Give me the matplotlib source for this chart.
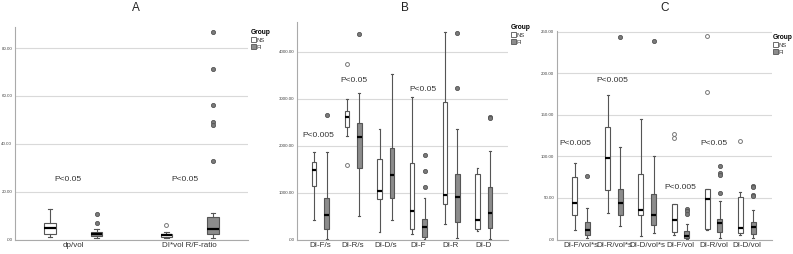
import matplotlib
matplotlib.use("Agg")
import matplotlib.pyplot as plt
from matplotlib.patches import Patch

# ---------------- data ----------------
groups = ["NS", "FI"]

a_categories = ["dp/vol", "DI*vol R/F-ratio"]
a_ns_whislo = [1.0, 0.8]
a_ns_q1 = [2.4, 1.25]
a_ns_med = [5.0, 1.8]
a_ns_q3 = [7.1, 2.4]
a_ns_whishi = [12.6, 3.2]
a_ns_fliers = [[], [6.0]]
a_fi_whislo = [0.7, 0.8]
a_fi_q1 = [1.5, 2.5]
a_fi_med = [2.5, 4.3]
a_fi_q3 = [3.2, 9.2]
a_fi_whishi = [4.5, 11.0]
a_fi_fliers = [[10.6, 7.0], [86.7, 71.4, 56.2, 49.0, 47.8, 32.8]]
a_pvalues = ["P<0.05", "P<0.05"]
a_p_x = [-0.045, 0.96]
a_p_y = [25, 25]
a_yticks = [0, 20, 40, 60, 80]
a_yticklabels = [".00", "20.00", "40.00", "60.00", "80.00"]

b_categories = ["DI-F/s", "DI-R/s", "DI-D/s", "DI-F", "DI-R", "DI-D"]
b_ns_whislo = [425, 2208, 163, 120, 340, 177]
b_ns_q1 = [1132, 2406, 870, 226, 757, 226]
b_ns_med = [1486, 2604, 1033, 602, 955, 418]
b_ns_q3 = [1642, 2746, 1713, 1628, 2930, 1394]
b_ns_whishi = [1875, 2987, 2350, 3029, 4423, 1522]
b_ns_fliers = [[], [3751, 1599], [], [], [], []]
b_fi_whislo = [21, 495, 425, 14, 28, 21]
b_fi_q1 = [226, 1522, 892, 50, 375, 248]
b_fi_med = [524, 2194, 1380, 262, 906, 559]
b_fi_q3 = [885, 2477, 1946, 439, 1394, 1111]
b_fi_whishi = [1875, 3114, 3524, 878, 2357, 1897]
b_fi_fliers = [[2647], [4374], [], [1805, 1451, 1125], [4409, 3220], [2604, 2590]]
b_pvalues = ["P<0.005", "P<0.05", "P<0.05"]
b_p_x = [-0.05, 1.02, 3.13]
b_p_y = [2215, 3397, 3199]
b_yticks = [0, 1000, 2000, 3000, 4000]
b_yticklabels = [".00", "1000.00", "2000.00", "3000.00", "4000.00"]

c_categories = ["DI-F/vol*s", "DI-R/vol*s", "DI-D/vol*s", "DI-F/vol", "DI-R/vol", "DI-D/vol"]
c_ns_whislo = [12, 32, 4, 5, 12, 5]
c_ns_q1 = [29, 60, 29, 9, 13, 8]
c_ns_med = [44, 98, 35, 24, 49, 14]
c_ns_q3 = [75, 136, 79, 43, 61, 51]
c_ns_whishi = [92, 174, 145, 43, 61, 57]
c_ns_fliers = [[], [], [], [127, 122], [245, 178], [119]]
c_fi_whislo = [2, 16, 8, 1, 2, 2]
c_fi_q1 = [5, 29, 18, 2.4, 9, 7]
c_fi_med = [11.6, 44, 30, 4.4, 20, 15]
c_fi_q3 = [21, 61, 55, 10, 25, 21]
c_fi_whishi = [38, 111, 100, 19, 46, 36]
c_fi_fliers = [[76], [244], [239], [37, 34, 31], [89, 80, 78, 56], [65, 63, 54, 52]]
c_pvalues = ["P<0.005", "P<0.005", "P<0.005", "P<0.05"]
c_p_x = [-0.17, 0.95, 3.0, 4.0]
c_p_y = [115, 191, 62, 115]
c_yticks = [0, 50, 100, 150, 200, 250]
c_yticklabels = [".00", "50.00", "100.00", "150.00", "200.00", "250.00"]

# ---------------- style ----------------
FI_COLOR = "#8c8c8c"
EDGE = "#555555"
GRID = "#d9d9d9"
NARROW = ["Liberation Sans Narrow", "Liberation Sans", "DejaVu Sans"]
PFONT = ["Liberation Sans", "DejaVu Sans"]


def make_stats(whislo, q1, med, q3, whishi, fliers):
    return [dict(whislo=a, q1=b, med=c, q3=d, whishi=e, fliers=f)
            for a, b, c, d, e, f in zip(whislo, q1, med, q3, whishi, fliers)]


def draw_panel(ax, cats, ns, fi, off, width, xlim, ylim, yticks, yticklabels):
    n = len(cats)
    pos_ns = [i - off for i in range(n)]
    pos_fi = [i + off for i in range(n)]
    common = dict(widths=width, patch_artist=True, manage_ticks=False,
                  whiskerprops=dict(color=EDGE, lw=0.8),
                  capprops=dict(color=EDGE, lw=0.8),
                  medianprops=dict(color="black", lw=1.6))
    bp1 = ax.bxp(ns, positions=pos_ns,
                 boxprops=dict(facecolor="white", edgecolor=EDGE, lw=0.8),
                 flierprops=dict(marker="o", markersize=2.8, markerfacecolor="none",
                                 markeredgecolor="#777777", markeredgewidth=0.7),
                 **common)
    bp2 = ax.bxp(fi, positions=pos_fi,
                 boxprops=dict(facecolor=FI_COLOR, edgecolor=EDGE, lw=0.8),
                 flierprops=dict(marker="o", markersize=3.0, markerfacecolor="#7a7a7a",
                                 markeredgecolor="#555555", markeredgewidth=0.6),
                 **common)
    for c in bp1["caps"] + bp2["caps"]:
        x = c.get_xdata()
        m = (x[0] + x[1]) / 2
        c.set_xdata([m - width * 0.2, m + width * 0.2])
    ax.set_xlim(*xlim)
    ax.set_ylim(*ylim)
    ax.set_xticks(range(n))
    ax.set_xticklabels(cats, family=NARROW, fontsize=5.8, color="#333333")
    ax.set_yticks(yticks)
    ax.set_yticklabels(yticklabels, fontsize=3.2, color="#444444", family=NARROW)
    ax.tick_params(length=0, pad=2)
    ax.yaxis.grid(True, color=GRID, lw=0.8)
    ax.set_axisbelow(True)
    for s in ["top", "right"]:
        ax.spines[s].set_visible(False)
    for s in ["left", "bottom"]:
        ax.spines[s].set_color("#aaaaaa")
        ax.spines[s].set_linewidth(0.8)


def legend(fig, x, y):
    handles = [Patch(facecolor="white", edgecolor=EDGE, lw=0.6, label=groups[0]),
               Patch(facecolor=FI_COLOR, edgecolor=EDGE, lw=0.6, label=groups[1])]
    lg = fig.legend(handles=handles, loc="upper left", bbox_to_anchor=(x, y),
                    frameon=False, title="Group", fontsize=4.2,
                    title_fontproperties=dict(size=4.8, weight="bold", family=NARROW),
                    handlelength=0.9, handleheight=0.9, handletextpad=0.1,
                    labelspacing=0.25, borderaxespad=0, borderpad=0, alignment="left")
    for t in lg.get_texts():
        t.set_family(NARROW)
        t.set_color("#333333")


W, H = 793, 254
fig = plt.figure(figsize=(W / 100, H / 100), dpi=100)


def axes_px(l, r, t, b):
    return fig.add_axes([l / W, 1 - b / H, (r - l) / W, (b - t) / H])


axA = axes_px(15, 248, 27, 239.5)
draw_panel(axA, a_categories,
           make_stats(a_ns_whislo, a_ns_q1, a_ns_med, a_ns_q3, a_ns_whishi, a_ns_fliers),
           make_stats(a_fi_whislo, a_fi_q1, a_fi_med, a_fi_q3, a_fi_whishi, a_fi_fliers),
           off=0.2, width=0.1, xlim=(-0.5, 1.5), ylim=(0, 88.8),
           yticks=a_yticks, yticklabels=a_yticklabels)
for x, y, p in zip(a_p_x, a_p_y, a_pvalues):
    axA.text(x, y, p, ha="center", va="center", fontsize=6.0, color="#333333", family=PFONT)

axB = axes_px(297, 508, 22, 239.5)
draw_panel(axB, b_categories,
           make_stats(b_ns_whislo, b_ns_q1, b_ns_med, b_ns_q3, b_ns_whishi, b_ns_fliers),
           make_stats(b_fi_whislo, b_fi_q1, b_fi_med, b_fi_q3, b_fi_whishi, b_fi_fliers),
           off=0.19, width=0.14, xlim=(-0.716, 5.744), ylim=(0, 4638),
           yticks=b_yticks, yticklabels=b_yticklabels)
for x, y, p in zip(b_p_x, b_p_y, b_pvalues):
    axB.text(x, y, p, ha="center", va="center", fontsize=6.0, color="#333333", family=PFONT)

axC = axes_px(557, 772, 31, 239.5)
draw_panel(axC, c_categories,
           make_stats(c_ns_whislo, c_ns_q1, c_ns_med, c_ns_q3, c_ns_whishi, c_ns_fliers),
           make_stats(c_fi_whislo, c_fi_q1, c_fi_med, c_fi_q3, c_fi_whishi, c_fi_fliers),
           off=0.19, width=0.15, xlim=(-0.72, 5.76), ylim=(0, 251),
           yticks=c_yticks, yticklabels=c_yticklabels)
for x, y, p in zip(c_p_x, c_p_y, c_pvalues):
    axC.text(x, y, p, ha="center", va="center", fontsize=6.0, color="#333333", family=PFONT)

# panel titles
for x, t in [(136, "A"), (405, "B"), (665, "C")]:
    fig.text(x / W, 1 - 8 / H, t, ha="center", va="center", fontsize=8.5,
             color="#222222", family=PFONT)

legend(fig, 251 / W, 1 - 29 / H)
legend(fig, 511 / W, 1 - 24 / H)
legend(fig, 773 / W, 1 - 34 / H)

fig.savefig("out.png", dpi=100)
